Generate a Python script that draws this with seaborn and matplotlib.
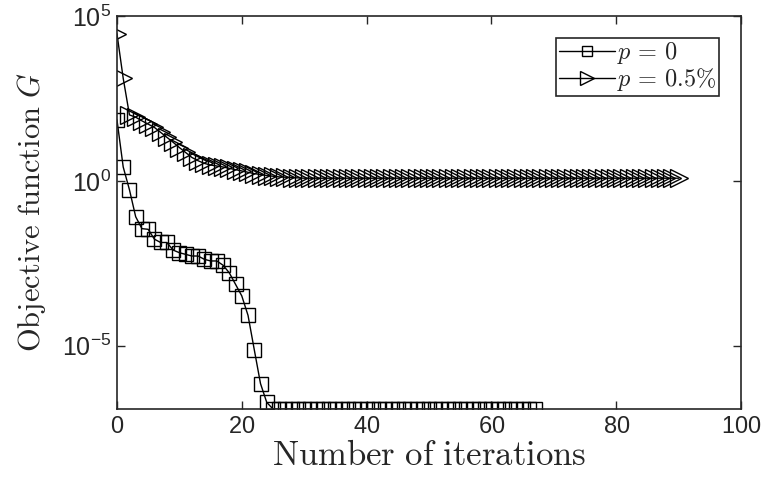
import numpy as np
import pandas as pd
import matplotlib
matplotlib.use("Agg")
import matplotlib.pyplot as plt
import seaborn as sns

# ─── Data (log10 of G) ──────────────────────────────────────────────────────
log_g_p0 = [1.85, 0.42, -0.27, -1.09, -1.45, -1.47, -1.77, -1.87, -1.87, -2.10,
            -2.18, -2.23, -2.28, -2.28, -2.38, -2.43, -2.43, -2.56, -2.79, -3.14,
            -3.49, -4.08, -5.12, -6.15, -6.72] + [-6.92] * 43
log_g_p05 = [4.46, 3.11, 2.00, 1.93, 1.82, 1.72, 1.62, 1.47, 1.32, 1.17,
             1.01, 0.86, 0.71, 0.61, 0.53, 0.48, 0.45, 0.42, 0.38, 0.34,
             0.30, 0.26, 0.22, 0.19, 0.16, 0.14, 0.12, 0.11, 0.10, 0.09] + [0.08] * 61
series_labels = [r"$p\,=\,0$", r"$p\,=\,0.5\%$"]
y_ticks = [1e-5, 1e0, 1e5]
y_tick_labels = [r"$\mathsf{10^{-5}}$", r"$\mathsf{10^{0}}$", r"$\mathsf{10^{5}}$"]
x_ticks = [0, 20, 40, 60, 80, 100]

df0 = pd.DataFrame({"it": np.arange(len(log_g_p0)), "G": 10.0 ** np.array(log_g_p0)})
df1 = pd.DataFrame({"it": np.arange(len(log_g_p05)), "G": 10.0 ** np.array(log_g_p05)})

# ─── Style ──────────────────────────────────────────────────────────────────
sns.set_style("ticks")
plt.rcParams["font.family"] = ["Liberation Sans", "DejaVu Sans"]
plt.rcParams["mathtext.fontset"] = "custom"
plt.rcParams["mathtext.rm"] = "cmr10"
plt.rcParams["mathtext.it"] = "cmmi10"
plt.rcParams["mathtext.sf"] = "Liberation Sans"
plt.rcParams["axes.formatter.use_mathtext"] = True

fig = plt.figure(figsize=(7.66, 4.78), dpi=100)
ax = fig.add_axes([0.1527, 0.1444, 0.8147, 0.8221])

sns.lineplot(data=df0, x="it", y="G", ax=ax, color="black", lw=1.0,
             marker="s", markersize=10, markerfacecolor="none",
             markeredgecolor="black", markeredgewidth=1.0, label=series_labels[0])
sns.lineplot(data=df1, x="it", y="G", ax=ax, color="black", lw=1.0,
             marker=">", markersize=12.5, markerfacecolor="none",
             markeredgecolor="black", markeredgewidth=1.0, label=series_labels[1])

ax.set_yscale("log")
ax.set_xlim(0, 100)
ax.set_ylim(10 ** -6.92, 1e5)
ax.set_xticks(x_ticks)
ax.set_yticks(y_ticks)
ax.set_yticklabels(y_tick_labels)
ax.minorticks_off()
ax.tick_params(direction="in", top=True, right=True, length=6, width=1,
               labelsize=17, colors="#262626", pad=5)
ax.tick_params(axis="y", labelsize=18, pad=4)
for sp in ax.spines.values():
    sp.set_color("#262626")
    sp.set_linewidth(1.2)

ax.set_xlabel(r"$\mathrm{Number\ of\ iterations}$", fontsize=25, labelpad=1)
ax.set_ylabel(r"$\mathrm{Objective\ function}\ G$", fontsize=22, labelpad=10)

leg = ax.legend(loc="upper right", fontsize=17.5, fancybox=False, framealpha=1,
                edgecolor="#262626", handlelength=2.3, handletextpad=0.1,
                borderpad=0.1, labelspacing=0.0, borderaxespad=0.9,
                markerscale=0.75)
leg.get_frame().set_linewidth(1.2)

fig.savefig("out.png", dpi=100)
